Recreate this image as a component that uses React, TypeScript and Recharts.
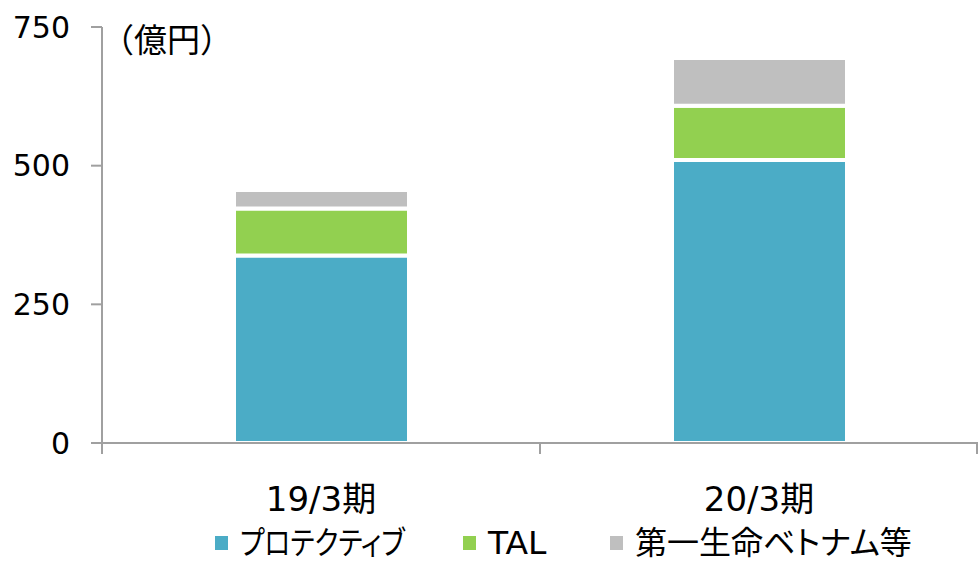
import React from 'react';
import { BarChart, Bar, XAxis, YAxis, Legend } from 'recharts';

const categories = ['19/3期', '20/3期'];
const protective = [338, 510];
const tal = [85, 98];
const vietnam = [33, 86];
const yTicks = [0, 250, 500, 750];

const seriesNames = ['プロテクティブ', 'TAL', '第一生命ベトナム等'];
const seriesKeys = ['protective', 'tal', 'vietnam'];
const seriesColors = ['#4BACC6', '#92D050', '#BFBFBF'];

const data = categories.map((name, i) => ({
  name,
  protective: protective[i],
  tal: tal[i],
  vietnam: vietnam[i],
}));

const W = 978;
const H = 561;
const AXIS_W = 102;
const FONT = "'DejaVu Sans', 'Noto Sans CJK JP', sans-serif";
const AXIS_COLOR = '#A0A0A0';
const halfBand = (W - AXIS_W) / categories.length / 2;

// legend square left positions; the katakana entry is drawn narrower, as in the source font
const legendX = [215, 463, 610];
const legendSquash = [0.83, 1.03, 1];

function CategoryTick(props: any) {
  const { x, y, payload, index } = props;
  const last = index === categories.length - 1;
  return (
    <g>
      <line x1={x - halfBand} y1={y} x2={x - halfBand} y2={y + 11} stroke={AXIS_COLOR} strokeWidth={2} />
      {last && (
        <line x1={x + halfBand - 1} y1={y} x2={x + halfBand - 1} y2={y + 11} stroke={AXIS_COLOR} strokeWidth={2} />
      )}
      <text x={x} y={y + 58} textAnchor="middle" dominantBaseline="middle" fontSize={34} fill="#000" fontFamily={FONT}>
        {payload.value}
      </text>
    </g>
  );
}

function LegendContent() {
  return (
    <div style={{ position: 'relative', width: W, height: 36 }}>
      {seriesNames.map((n, i) => (
        <div
          key={n}
          style={{
            position: 'absolute',
            left: legendX[i],
            top: 0,
            height: 36,
            display: 'flex',
            alignItems: 'center',
            whiteSpace: 'nowrap',
          }}
        >
          <span style={{ width: 13, height: 14, background: seriesColors[i], display: 'inline-block', marginRight: 12 }} />
          <span
            style={{
              fontSize: 32,
              fontFamily: FONT,
              color: '#000',
              lineHeight: '36px',
              display: 'inline-block',
              transform: `scaleX(${legendSquash[i]})`,
              transformOrigin: 'left center',
              fontFeatureSettings: '"palt"',
            }}
          >
            {n}
          </span>
        </div>
      ))}
    </div>
  );
}

export default function App() {
  return (
    <div style={{ position: 'absolute', left: 0, top: 0, width: W, height: H, background: '#fff' }}>
      <BarChart width={W} height={H} data={data} margin={{ top: 27, right: 0, left: 0, bottom: 0 }} barSize={175}>
        <XAxis
          dataKey="name"
          tick={<CategoryTick />}
          tickLine={false}
          tickSize={0}
          tickMargin={0}
          height={82}
          axisLine={{ stroke: AXIS_COLOR, strokeWidth: 2 }}
          interval={0}
        />
        <YAxis
          type="number"
          domain={[0, 750]}
          ticks={yTicks}
          width={AXIS_W}
          tickSize={11}
          tickMargin={21}
          tick={{ fill: '#000', fontSize: 30, fontFamily: FONT }}
          tickLine={{ stroke: AXIS_COLOR, strokeWidth: 2 }}
          axisLine={{ stroke: AXIS_COLOR, strokeWidth: 2 }}
          label={{
            content: () => (
              <text x={101} y={43} dominantBaseline="middle" fontSize={33} fill="#000" fontFamily="'Noto Sans CJK JP', sans-serif">
                （億円）
              </text>
            ),
          }}
        />
        <Legend verticalAlign="bottom" content={<LegendContent />} wrapperStyle={{ left: 0, width: W, height: 36 }} />
        {seriesKeys.map((k, i) => (
          <Bar
            key={k}
            dataKey={k}
            name={seriesNames[i]}
            stackId="a"
            fill={seriesColors[i]}
            stroke="#fff"
            strokeWidth={4}
            isAnimationActive={false}
          />
        ))}
      </BarChart>
    </div>
  );
}
